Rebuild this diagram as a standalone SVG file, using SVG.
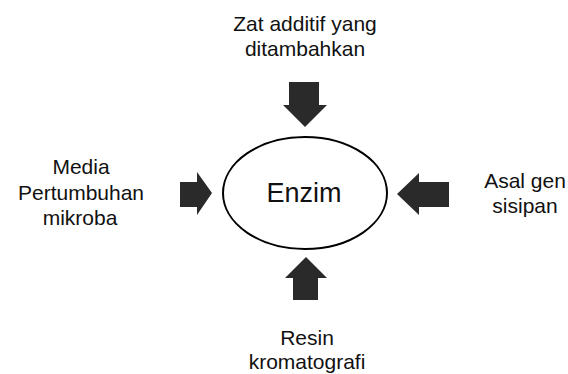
<svg xmlns="http://www.w3.org/2000/svg" width="568" height="374" viewBox="0 0 568 374">
  <style>
    .lbl { font-family: "Liberation Sans", Arial, sans-serif; font-size: 21px; fill: #111; text-anchor: middle; }
    .core { font-family: "Liberation Sans", Arial, sans-serif; font-size: 27px; fill: #111; text-anchor: middle; }
    .arrow { fill: #2a2a2a; }
  </style>
  <rect width="568" height="374" fill="#ffffff"/>

  <!-- central node -->
  <g id="enzim">
    <ellipse cx="305" cy="193" rx="82" ry="56" fill="#ffffff" stroke="#000" stroke-width="2"/>
    <text class="core" x="304" y="202">Enzim</text>
  </g>

  <!-- factor labels -->
  <g id="zat-additif">
    <text class="lbl" x="305" y="31">Zat additif yang</text>
    <text class="lbl" x="305" y="56">ditambahkan</text>
  </g>
  <g id="media">
    <text class="lbl" x="81" y="174">Media</text>
    <text class="lbl" x="81" y="200">Pertumbuhan</text>
    <text class="lbl" x="80" y="225">mikroba</text>
  </g>
  <g id="asal-gen">
    <text class="lbl" x="525" y="188">Asal gen</text>
    <text class="lbl" x="525" y="213">sisipan</text>
  </g>
  <g id="resin">
    <text class="lbl" x="307" y="345">Resin</text>
    <text class="lbl" x="307" y="369">kromatografi</text>
  </g>

  <!-- block arrows pointing at the enzyme -->
  <g id="connectors">
    <polygon class="arrow" points="289,82 319,82 319,105 327,105 305,127 283,105 289,105"/>
    <polygon class="arrow" points="180,182 197,182 197,172 212,193 197,215 197,207 180,207"/>
    <polygon class="arrow" points="449,182 419,182 419,173 397,194 419,215 419,207 449,207"/>
    <polygon class="arrow" points="293,300 318,300 318,278 327,278 306,257 285,278 293,278"/>
  </g>
</svg>
